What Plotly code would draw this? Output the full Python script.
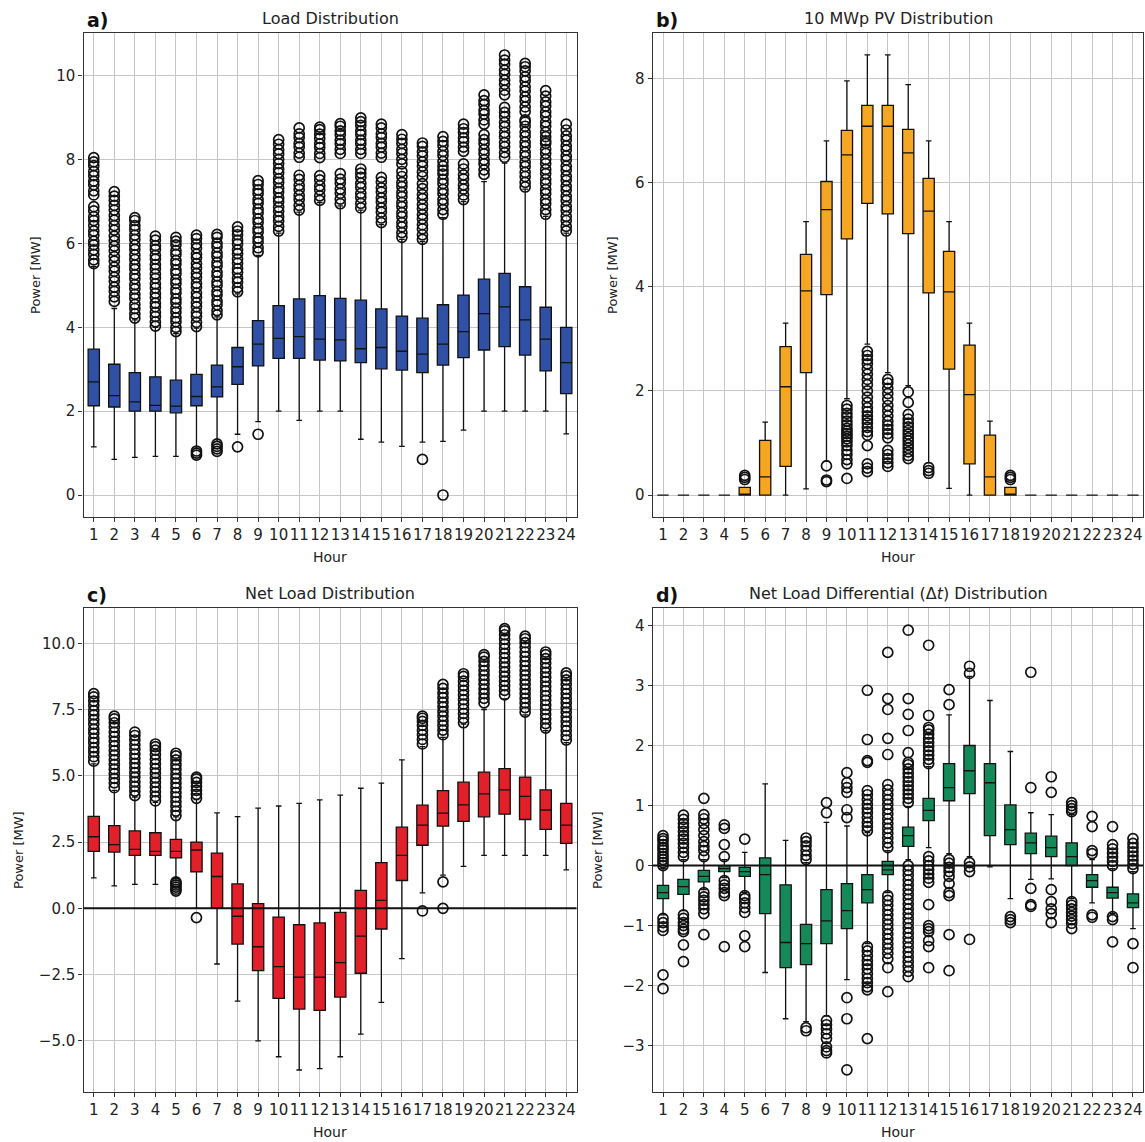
import plotly.graph_objects as go

HOURS = list(range(1, 25))
HOUR_LABELS = [str(h) for h in HOURS]

# ---------------- a) Load distribution [MW] ----------------
LOAD_LOW = [1.15, 0.85, 0.9, 0.92, 0.92, 1.12, 1.28, 1.45, 1.75, 2.0, 1.78, 2.0,
            2.0, 1.33, 1.26, 1.16, 1.26, 1.28, 1.55, 2.0, 2.0, 2.0, 2.0, 1.46]
LOAD_Q1 = [2.13, 2.1, 2.0, 2.0, 1.96, 2.13, 2.34, 2.64, 3.08, 3.26, 3.26, 3.22,
           3.2, 3.16, 3.01, 2.98, 2.92, 3.1, 3.28, 3.46, 3.54, 3.34, 2.96, 2.42]
LOAD_MED = [2.7, 2.37, 2.22, 2.14, 2.12, 2.35, 2.58, 3.06, 3.6, 3.74, 3.78, 3.72,
            3.7, 3.49, 3.52, 3.43, 3.36, 3.6, 3.9, 4.33, 4.49, 4.18, 3.72, 3.16]
LOAD_Q3 = [3.48, 3.12, 2.92, 2.82, 2.74, 2.88, 3.1, 3.52, 4.16, 4.52, 4.68, 4.76,
           4.69, 4.65, 4.44, 4.27, 4.22, 4.54, 4.77, 5.15, 5.29, 4.97, 4.48, 4.0]
LOAD_HIGH = [5.45, 4.45, 4.18, 4.0, 3.85, 3.98, 4.25, 4.8, 5.72, 6.25, 6.75, 6.98,
             6.9, 6.8, 6.45, 6.1, 6.05, 6.62, 7.0, 7.48, 7.92, 7.3, 6.65, 6.25]
LOAD_FLIERS = [
    [5.52, 5.61, 5.74, 5.85, 5.97, 6.06, 6.2, 6.3, 6.43, 6.55, 6.64, 6.78, 6.88,
     7.16, 7.26, 7.4, 7.49, 7.62, 7.72, 7.86, 7.95, 8.05],
    [4.62, 4.73, 4.86, 4.96, 5.1, 5.2, 5.34, 5.44, 5.58, 5.69, 5.83, 5.94, 6.07,
     6.18, 6.32, 6.43, 6.56, 6.67, 6.8, 6.91, 7.03, 7.13, 7.24],
    [4.22, 4.32, 4.45, 4.55, 4.69, 4.79, 4.92, 5.02, 5.16, 5.26, 5.39, 5.49, 5.62,
     5.73, 5.86, 5.96, 6.1, 6.2, 6.33, 6.43, 6.55, 6.62],
    [4.03, 4.13, 4.26, 4.36, 4.49, 4.58, 4.71, 4.81, 4.94, 5.04, 5.17, 5.27, 5.4,
     5.5, 5.63, 5.72, 5.86, 5.95, 6.08, 6.18],
    [3.9, 4.0, 4.13, 4.23, 4.36, 4.46, 4.59, 4.68, 4.82, 4.91, 5.05, 5.14, 5.28,
     5.37, 5.51, 5.6, 5.74, 5.83, 5.97, 6.06, 6.15],
    [0.95, 1.0, 1.05, 4.02, 4.12, 4.26, 4.35, 4.49, 4.59, 4.72, 4.82, 4.96, 5.05,
     5.19, 5.29, 5.42, 5.52, 5.66, 5.75, 5.89, 5.99, 6.12, 6.2],
    [1.04, 1.1, 1.16, 1.22, 4.3, 4.4, 4.54, 4.63, 4.77, 4.86, 5.0, 5.09, 5.23,
     5.32, 5.46, 5.55, 5.69, 5.78, 5.92, 6.01, 6.15, 6.22],
    [1.15, 4.85, 4.95, 5.08, 5.17, 5.31, 5.4, 5.53, 5.63, 5.76, 5.85, 5.99, 6.08,
     6.21, 6.3, 6.4],
    [1.45, 5.8, 5.9, 6.04, 6.13, 6.27, 6.36, 6.5, 6.59, 6.73, 6.82, 6.96, 7.05,
     7.19, 7.28, 7.41, 7.5],
    [6.3, 6.41, 6.54, 6.64, 6.77, 6.87, 7.0, 7.09, 7.23, 7.32, 7.46, 7.55, 7.69,
     7.78, 7.91, 8.01, 8.14, 8.24, 8.37, 8.48],
    [6.8, 6.91, 7.05, 7.15, 7.29, 7.39, 7.53, 7.63, 8.06, 8.16, 8.3, 8.39, 8.53,
     8.62, 8.76],
    [7.03, 7.14, 7.28, 7.38, 7.52, 7.62, 8.05, 8.15, 8.29, 8.38, 8.51, 8.61, 8.72,
     8.78],
    [6.95, 7.06, 7.2, 7.3, 7.44, 7.54, 7.67, 8.15, 8.25, 8.38, 8.47, 8.6, 8.69,
     8.8, 8.86],
    [6.85, 6.96, 7.1, 7.2, 7.34, 7.44, 7.58, 7.68, 7.78, 8.15, 8.25, 8.38, 8.47,
     8.6, 8.69, 8.82, 8.91, 9.0],
    [6.5, 6.61, 6.75, 6.85, 6.99, 7.09, 7.23, 7.33, 7.47, 7.58, 8.06, 8.16, 8.3,
     8.39, 8.53, 8.62, 8.76, 8.85],
    [6.15, 6.26, 6.4, 6.5, 6.64, 6.74, 6.88, 6.98, 7.12, 7.22, 7.36, 7.46, 7.6,
     7.72, 7.9, 8.01, 8.15, 8.25, 8.39, 8.49, 8.6],
    [0.85, 6.1, 6.21, 6.35, 6.45, 6.59, 6.69, 6.83, 6.93, 7.07, 7.17, 7.31, 7.43,
     7.6, 7.71, 7.85, 7.95, 8.09, 8.19, 8.32, 8.4],
    [0.0, 6.7, 6.81, 6.95, 7.05, 7.19, 7.29, 7.43, 7.53, 7.66, 7.75, 7.85, 7.96,
     8.1, 8.2, 8.34, 8.44, 8.55],
    [7.05, 7.16, 7.3, 7.4, 7.54, 7.64, 7.78, 7.9, 8.2, 8.3, 8.43, 8.52, 8.65,
     8.74, 8.85],
    [7.65, 7.76, 7.9, 8.0, 8.14, 8.24, 8.38, 8.48, 8.6, 8.85, 8.95, 9.09, 9.18,
     9.32, 9.41, 9.55],
    [8.06, 8.17, 8.31, 8.41, 8.55, 8.65, 8.79, 8.89, 9.03, 9.13, 9.25, 9.55,
     9.66, 9.8, 9.9, 10.04, 10.14, 10.28, 10.38, 10.5],
    [7.35, 7.46, 7.6, 7.7, 7.84, 7.94, 8.08, 8.18, 8.32, 8.42, 8.56, 8.66, 8.8,
     8.9, 8.95, 9.15, 9.26, 9.4, 9.5, 9.64, 9.74, 9.88, 9.98, 10.12, 10.22, 10.3],
    [6.7, 6.81, 6.95, 7.05, 7.19, 7.29, 7.43, 7.53, 7.67, 7.77, 7.91, 8.01, 8.15,
     8.25, 8.39, 8.45, 8.55, 8.66, 8.8, 8.9, 9.04, 9.14, 9.28, 9.38, 9.52, 9.65],
    [6.3, 6.41, 6.55, 6.65, 6.79, 6.89, 7.03, 7.13, 7.27, 7.37, 7.51, 7.61, 7.75,
     7.85, 7.99, 8.09, 8.23, 8.33, 8.47, 8.57, 8.71, 8.85],
]

# ---------------- b) 10 MWp PV distribution [MW] ----------------
PV_LOW = [0, 0, 0, 0, 0, 0, 0, 0.12, 0.65, 1.85, 2.9, 2.35,
          2.1, 0.62, 0.13, 0, 0, 0, 0, 0, 0, 0, 0, 0]
PV_Q1 = [0, 0, 0, 0, 0, 0, 0.55, 2.35, 3.85, 4.92, 5.6, 5.4,
         5.02, 3.88, 2.42, 0.6, 0, 0, 0, 0, 0, 0, 0, 0]
PV_MED = [0, 0, 0, 0, 0, 0.35, 2.08, 3.92, 5.48, 6.53, 7.08, 7.08,
          6.57, 5.45, 3.9, 1.93, 0.35, 0, 0, 0, 0, 0, 0, 0]
PV_Q3 = [0, 0, 0, 0, 0.15, 1.05, 2.85, 4.62, 6.02, 7.0, 7.48, 7.48,
         7.02, 6.08, 4.68, 2.88, 1.15, 0.15, 0, 0, 0, 0, 0, 0]
PV_HIGH = [0, 0, 0, 0, 0.15, 1.4, 3.3, 5.25, 6.8, 7.95, 8.45, 8.45,
           7.88, 6.8, 5.25, 3.3, 1.42, 0.15, 0, 0, 0, 0, 0, 0]
PV_FLIERS = [
    [], [], [], [],
    [0.3, 0.34, 0.38],
    [], [], [],
    [0.26, 0.29, 0.56],
    [0.32, 0.6, 0.68, 0.78, 0.86, 0.95, 1.02, 1.08, 1.13, 1.18, 1.23, 1.28,
     1.35, 1.42, 1.5, 1.57, 1.65, 1.72],
    [0.45, 0.52, 0.6, 0.95, 1.15, 1.22, 1.3, 1.38, 1.45, 1.52, 1.6, 1.68, 1.78,
     1.88, 2.0, 2.12, 2.22, 2.32, 2.42, 2.52, 2.6, 2.68, 2.76],
    [0.55, 0.62, 0.7, 0.78, 0.86, 1.1, 1.18, 1.26, 1.34, 1.42, 1.52, 1.62, 1.72,
     1.84, 1.95, 2.05, 2.15, 2.22],
    [0.7, 0.76, 0.83, 0.9, 0.97, 1.04, 1.1, 1.17, 1.24, 1.31, 1.38, 1.46, 1.55,
     1.78, 1.98],
    [0.42, 0.47, 0.53],
    [], [], [],
    [0.3, 0.34, 0.38],
    [], [], [], [], [], [],
]

# ---------------- c) Net load distribution [MW] ----------------
NET_LOW = [1.15, 0.85, 0.9, 0.9, 1.05, 0.0, -2.1, -3.5, -5.0, -5.6, -6.1, -6.05,
           -5.6, -4.75, -3.55, -1.9, 0.58, 1.25, 1.58, 2.0, 2.0, 2.0, 2.0, 1.45]
NET_Q1 = [2.15, 2.12, 2.0, 2.0, 1.9, 1.38, 0.02, -1.35, -2.35, -3.4, -3.8, -3.85,
          -3.35, -2.45, -0.78, 1.05, 2.38, 3.1, 3.28, 3.45, 3.55, 3.35, 2.98, 2.45]
NET_MED = [2.7, 2.4, 2.22, 2.15, 2.15, 2.2, 1.2, -0.3, -1.45, -2.2, -2.6, -2.6,
           -2.05, -1.05, 0.3, 2.0, 3.14, 3.59, 3.9, 4.32, 4.47, 4.22, 3.71, 3.14]
NET_Q3 = [3.47, 3.12, 2.92, 2.85, 2.6, 2.5, 2.08, 0.92, 0.18, -0.33, -0.62, -0.55,
          -0.15, 0.68, 1.72, 3.06, 3.89, 4.44, 4.76, 5.14, 5.27, 4.95, 4.47, 3.96]
NET_HIGH = [5.45, 4.45, 4.2, 4.0, 3.45, 4.1, 3.6, 3.46, 3.78, 3.86, 3.96, 4.09,
            4.27, 4.53, 4.72, 5.6, 6.1, 6.45, 6.95, 7.5, 7.9, 7.3, 6.7, 6.25]
NET_FLIERS = [
    [5.55, 5.72, 5.9, 6.06, 6.25, 6.41, 6.6, 6.76, 6.95, 7.12, 7.3, 7.46, 7.65,
     7.82, 7.98, 8.1],
    [4.55, 4.73, 4.9, 5.08, 5.25, 5.43, 5.6, 5.78, 5.95, 6.13, 6.3, 6.48, 6.65,
     6.83, 7.0, 7.15, 7.25],
    [4.25, 4.42, 4.6, 4.77, 4.95, 5.12, 5.3, 5.47, 5.65, 5.82, 6.0, 6.17, 6.35,
     6.52, 6.65],
    [4.05, 4.22, 4.4, 4.57, 4.75, 4.92, 5.1, 5.27, 5.45, 5.62, 5.8, 5.97, 6.1,
     6.2],
    [0.65, 0.72, 0.8, 0.88, 0.95, 1.0, 3.5, 3.67, 3.85, 4.02, 4.2, 4.37, 4.55,
     4.72, 4.9, 5.07, 5.25, 5.42, 5.6, 5.75, 5.85],
    [-0.35, 4.15, 4.3, 4.45, 4.6, 4.75, 4.88, 4.95],
    [], [], [], [], [], [], [], [], [], [],
    [-0.1, 6.2, 6.37, 6.55, 6.72, 6.9, 7.05, 7.17, 7.25],
    [0.0, 1.0, 6.55, 6.72, 6.9, 7.07, 7.25, 7.42, 7.6, 7.77, 7.95, 8.12, 8.3,
     8.45],
    [7.0, 7.17, 7.35, 7.52, 7.7, 7.87, 8.05, 8.22, 8.4, 8.57, 8.75, 8.85],
    [7.75, 7.92, 8.1, 8.27, 8.45, 8.62, 8.8, 8.97, 9.15, 9.32, 9.48, 9.57],
    [8.05, 8.22, 8.4, 8.57, 8.75, 8.92, 9.1, 9.27, 9.45, 9.62, 9.8, 9.97, 10.15,
     10.32, 10.47, 10.55],
    [7.4, 7.57, 7.75, 7.92, 8.1, 8.27, 8.45, 8.62, 8.8, 8.97, 9.15, 9.32, 9.5,
     9.67, 9.85, 10.02, 10.17, 10.27],
    [6.8, 6.97, 7.15, 7.32, 7.5, 7.67, 7.85, 8.02, 8.2, 8.37, 8.55, 8.72, 8.9,
     9.07, 9.25, 9.42, 9.57, 9.67],
    [6.35, 6.52, 6.7, 6.87, 7.05, 7.22, 7.4, 7.57, 7.75, 7.92, 8.1, 8.27, 8.45,
     8.62, 8.77, 8.88],
]

# ---------------- d) Net load differential distribution [MW] ----------------
DIFF_LOW = [-0.82, -0.75, -0.4, -0.2, -0.45, -1.78, -2.55, -2.6, -2.5, -1.9, -1.3,
            -0.45, 0.1, 0.3, 0.2, 0.15, -0.02, -0.55, -0.23, -0.22, -0.55, -0.62,
            -0.8, -1.05]
DIFF_Q1 = [-0.55, -0.48, -0.27, -0.1, -0.18, -0.8, -1.7, -1.65, -1.3, -1.05, -0.62,
           -0.15, 0.32, 0.75, 1.08, 1.2, 0.5, 0.35, 0.2, 0.15, 0.0, -0.36, -0.54,
           -0.7]
DIFF_MED = [-0.45, -0.35, -0.18, -0.05, -0.1, -0.15, -1.28, -1.3, -0.92, -0.75,
            -0.4, -0.07, 0.5, 0.92, 1.3, 1.58, 1.38, 0.6, 0.38, 0.3, 0.15, -0.25,
            -0.45, -0.62]
DIFF_Q3 = [-0.33, -0.23, -0.08, 0.0, -0.03, 0.13, -0.32, -0.98, -0.4, -0.3, -0.15,
           0.07, 0.64, 1.12, 1.7, 2.0, 1.7, 1.01, 0.54, 0.49, 0.38, -0.15, -0.36,
           -0.47]
DIFF_HIGH = [-0.05, 0.1, 0.1, 0.1, 0.22, 1.36, 0.42, 0.05, 0.72, 0.66, 0.55, 0.25,
             0.98, 1.65, 2.51, 3.15, 2.75, 1.9, 0.88, 0.85, 0.85, 0.1, -0.05, -0.1]
DIFF_FLIERS = [
    [0.0, 0.05, 0.1, 0.15, 0.2, 0.26, 0.3, 0.35, 0.41, 0.45, 0.5, -0.88, -0.95,
     -1.02, -1.08, -1.82, -2.05],
    [0.15, 0.22, 0.3, 0.37, 0.44, 0.5, 0.57, 0.64, 0.7, 0.77, 0.84, -0.82, -0.88,
     -0.95, -1.0, -1.06, -1.1, -1.32, -1.6],
    [0.15, 0.25, 0.32, 0.4, 0.5, 0.6, 0.7, 0.78, 0.85, 1.12, -0.45, -0.52, -0.58,
     -0.65, -0.72, -0.8, -1.15],
    [0.15, 0.35, 0.62, 0.68, -0.25, -0.32, -0.38, -0.45, -0.5, -1.35],
    [0.44, -0.5, -0.55, -0.62, -0.7, -0.78, -1.17, -1.35],
    [], [],
    [0.1, 0.17, 0.25, 0.33, 0.4, 0.46, -2.7, -2.75],
    [0.88, 1.05, -2.58, -2.65, -2.72, -2.8, -2.88, -3.02, -3.08, -3.12],
    [0.8, 0.93, 1.22, 1.3, 1.38, 1.55, -2.2, -2.55, -3.4],
    [0.58, 0.65, 0.72, 0.8, 0.88, 0.95, 1.02, 1.1, 1.18, 1.25, 1.72, 1.75, 2.1,
     2.92, -1.35, -1.42, -1.5, -1.58, -1.65, -1.72, -1.8, -1.88, -1.95, -2.02,
     -2.07, -2.88],
    [0.3, 0.38, 0.46, 0.54, 0.62, 0.7, 0.78, 0.86, 0.94, 1.02, 1.1, 1.18, 1.26,
     1.35, 1.85, 2.12, 2.6, 2.78, 3.55, -0.5, -0.58, -0.66, -0.74, -0.82, -0.9,
     -0.98, -1.06, -1.14, -1.22, -1.3, -1.38, -1.46, -1.55, -1.7, -2.1],
    [1.05, 1.12, 1.19, 1.26, 1.33, 1.4, 1.47, 1.54, 1.61, 1.68, 1.72, 1.88, 2.25,
     2.52, 2.78, 3.92, 0.0, -0.08, -0.16, -0.24, -0.32, -0.4, -0.48, -0.56,
     -0.64, -0.72, -0.8, -0.88, -0.96, -1.04, -1.12, -1.2, -1.28, -1.36, -1.44,
     -1.52, -1.6, -1.68, -1.76, -1.85],
    [1.7, 1.77, 1.84, 1.91, 1.98, 2.05, 2.12, 2.19, 2.26, 2.3, 2.5, 3.67, 0.15,
     0.08, 0.0, -0.07, -0.14, -0.21, -0.28, -0.65, -1.0, -1.05, -1.1, -1.25,
     -1.35, -1.7],
    [2.68, 2.93, 0.1, 0.04, -0.03, -0.1, -0.18, -0.3, -0.45, -0.5, -1.15, -1.75],
    [3.2, 3.32, 0.05, -0.02, -0.1, -1.23],
    [],
    [-0.85, -0.9, -0.95],
    [1.3, 3.22, -0.38, -0.65, -0.68],
    [1.22, 1.48, -0.4, -0.6, -0.72, -0.8, -0.95],
    [0.9, 0.95, 1.0, 1.05, -0.6, -0.66, -0.72, -0.78, -0.84, -0.9, -0.96, -1.05],
    [0.2, 0.25, 0.65, 0.82, -0.82, -0.86],
    [0.0, 0.07, 0.14, 0.21, 0.28, 0.35, 0.65, -0.85, -0.9, -1.27],
    [-0.05, 0.02, 0.09, 0.16, 0.23, 0.3, 0.37, 0.45, -1.3, -1.7],
]

PANELS = [
    dict(tag="a)", title="Load Distribution", color="#2F50A5",
         stats=(LOAD_LOW, LOAD_Q1, LOAD_MED, LOAD_Q3, LOAD_HIGH), fliers=LOAD_FLIERS,
         yrange=[-0.525, 11.025], yticks=[0, 2, 4, 6, 8, 10],
         ylabels=["0", "2", "4", "6", "8", "10"], zero=False),
    dict(tag="b)", title="10 MWp PV Distribution", color="#F5A623",
         stats=(PV_LOW, PV_Q1, PV_MED, PV_Q3, PV_HIGH), fliers=PV_FLIERS,
         yrange=[-0.42, 8.87], yticks=[0, 2, 4, 6, 8],
         ylabels=["0", "2", "4", "6", "8"], zero=False),
    dict(tag="c)", title="Net Load Distribution", color="#E2202A",
         stats=(NET_LOW, NET_Q1, NET_MED, NET_Q3, NET_HIGH), fliers=NET_FLIERS,
         yrange=[-6.93, 11.33], yticks=[-5, -2.5, 0, 2.5, 5, 7.5, 10],
         ylabels=["\u22125.0", "\u22122.5", "0.0", "2.5", "5.0", "7.5", "10.0"], zero=True),
    dict(tag="d)", title="Net Load Differential (\u0394<i>t</i>) Distribution", color="#15895A",
         stats=(DIFF_LOW, DIFF_Q1, DIFF_MED, DIFF_Q3, DIFF_HIGH), fliers=DIFF_FLIERS,
         yrange=[-3.77, 4.29], yticks=[-3, -2, -1, 0, 1, 2, 3, 4],
         ylabels=["\u22123", "\u22122", "\u22121", "0", "1", "2", "3", "4"], zero=True),
]

W, H = 1145, 1142
# axes frames in pixels: (left, right, top, bottom)
FRAMES = [(83.5, 576.5, 33, 517), (652.8, 1143.2, 33, 517),
          (83.5, 576.5, 608, 1092), (652.8, 1143.2, 608, 1092)]
YLABEL_X = [36, 613, 18, 597]

FONT = "DejaVu Sans"
fig = go.Figure()
layout = dict(width=W, height=H, margin=dict(l=0, r=0, t=0, b=0),
              paper_bgcolor="white", plot_bgcolor="white", showlegend=False,
              font=dict(family=FONT, color="#222"))
annotations = []
shapes = []

for i, p in enumerate(PANELS):
    n = "" if i == 0 else str(i + 1)
    xa, ya = "x" + n, "y" + n
    left, right, top, bottom = FRAMES[i]
    low, q1, med, q3, high = p["stats"]

    fig.add_trace(go.Box(
        x=HOURS, q1=q1, median=med, q3=q3, lowerfence=low, upperfence=high,
        width=0.55, whiskerwidth=0.5, boxpoints=False,
        fillcolor=p["color"], line=dict(color="#111", width=1.3),
        xaxis=xa, yaxis=ya, hoverinfo="skip"))

    fx, fy = [], []
    for h, vals in zip(HOURS, p["fliers"]):
        fx += [h] * len(vals)
        fy += vals
    fig.add_trace(go.Scatter(
        x=fx, y=fy, mode="markers", xaxis=xa, yaxis=ya, hoverinfo="skip",
        marker=dict(symbol="circle-open", size=10, color="#111",
                    line=dict(width=1.7, color="#111"))))

    axis_common = dict(showline=True, mirror=True, linecolor="#333", linewidth=1.4,
                       ticks="outside", ticklen=4, tickcolor="#333",
                       showgrid=True, gridcolor="#c6c6c6", gridwidth=1,
                       zeroline=False, tickangle=0,
                       tickfont=dict(family=FONT, size=15, color="#222"))
    layout["xaxis" + n] = dict(axis_common, domain=[left / W, right / W],
                               range=[0.5, 24.5], tickmode="array",
                               tickvals=HOURS, ticktext=HOUR_LABELS, anchor=ya)
    layout["yaxis" + n] = dict(axis_common, domain=[1 - bottom / H, 1 - top / H],
                               range=p["yrange"], tickmode="array",
                               tickvals=p["yticks"], ticktext=p["ylabels"], anchor=xa)

    if p["zero"]:
        shapes.append(dict(type="line", xref=xa + " domain", yref=ya,
                           x0=0, x1=1, y0=0, y1=0, layer="above",
                           line=dict(color="#111", width=2)))

    cx = (left + right) / 2 / W
    annotations += [
        dict(text=p["title"], x=cx, y=1 - (top - 15) / H, xref="paper", yref="paper",
             xanchor="center", yanchor="middle", showarrow=False,
             font=dict(family=FONT, size=16, color="#222")),
        dict(text="<b>" + p["tag"] + "</b>", x=(left + 1) / W, y=1 - (top - 13) / H,
             xref="paper", yref="paper", xanchor="left", yanchor="middle",
             showarrow=False, font=dict(family=FONT, size=19, color="#111")),
        dict(text="Hour", x=cx, y=1 - (bottom + 40) / H, xref="paper", yref="paper",
             xanchor="center", yanchor="middle", showarrow=False,
             font=dict(family=FONT, size=14, color="#222")),
        dict(text="Power [MW]", x=YLABEL_X[i] / W, y=1 - (top + bottom) / 2 / H,
             xref="paper", yref="paper", xanchor="center", yanchor="middle",
             textangle=-90, showarrow=False,
             font=dict(family=FONT, size=13, color="#222")),
    ]

layout["annotations"] = annotations
layout["shapes"] = shapes
fig.update_layout(**layout)
fig.write_html("out.html")
